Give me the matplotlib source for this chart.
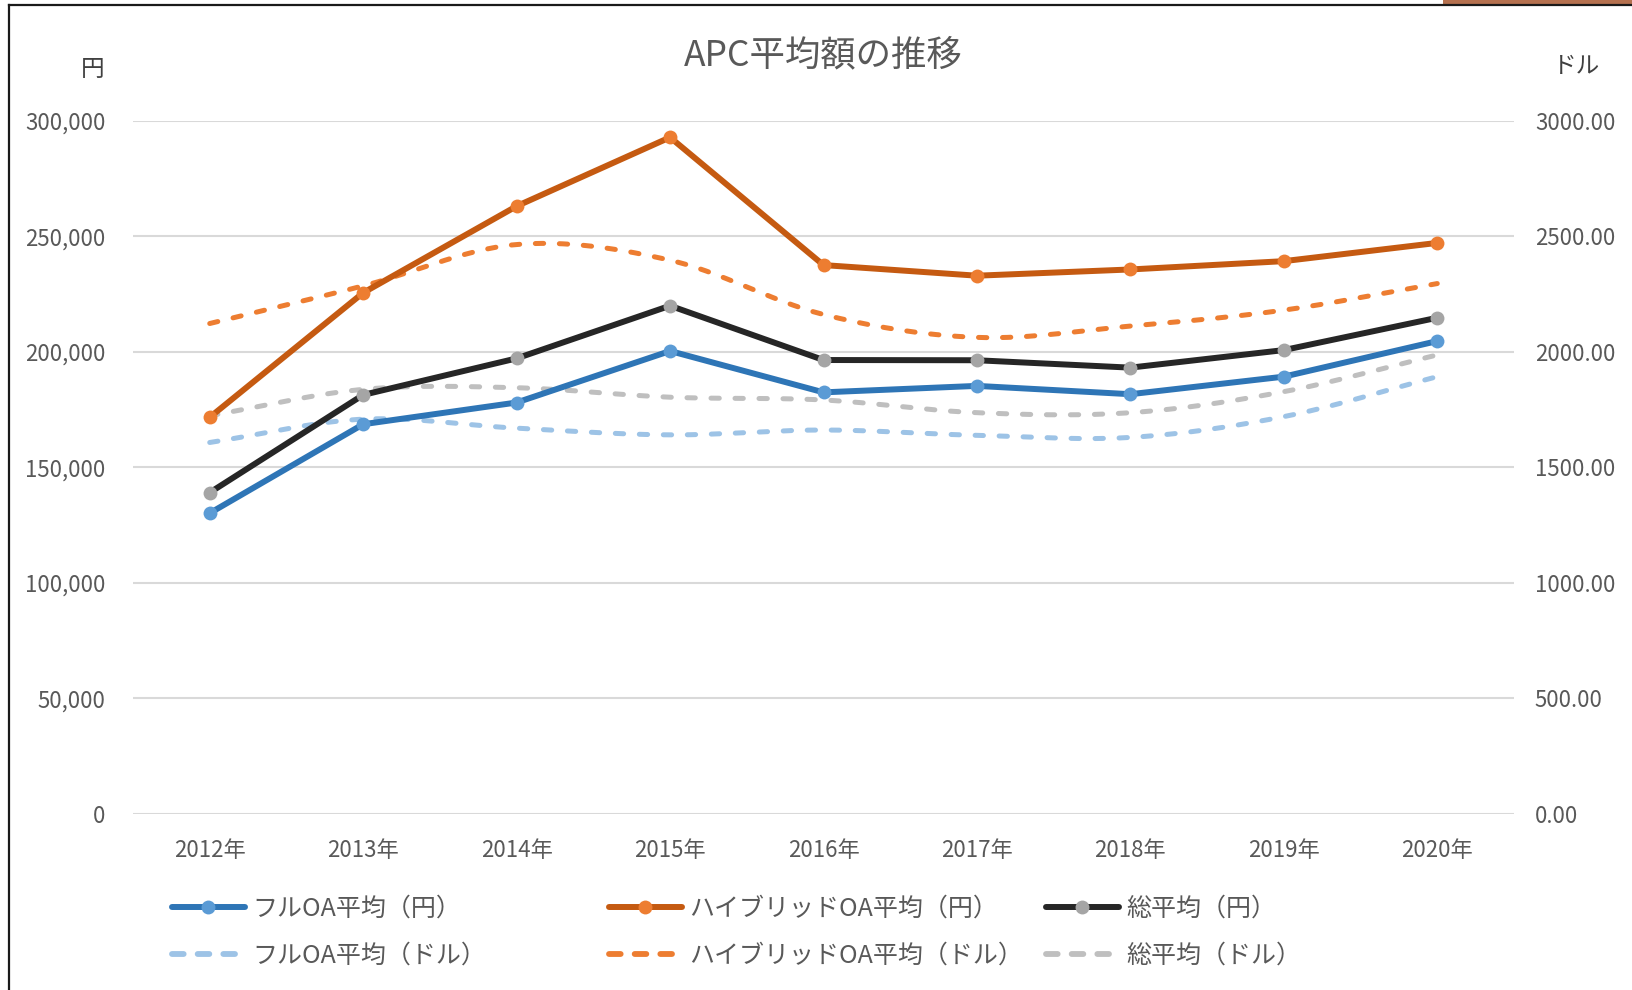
import numpy as np
import matplotlib
matplotlib.use("Agg")
import matplotlib.pyplot as plt
from matplotlib.lines import Line2D
from matplotlib.patches import Rectangle
from matplotlib.ticker import FuncFormatter, MultipleLocator

plt.rcParams['font.family'] = ['Noto Sans CJK JP', 'DejaVu Sans']

years = ["2012年", "2013年", "2014年", "2015年", "2016年", "2017年", "2018年", "2019年", "2020年"]
full_yen = [130100, 168600, 178000, 200300, 182400, 185200, 181600, 189200, 204600]
hybrid_yen = [171600, 225500, 263000, 292800, 237500, 232900, 235600, 239200, 247100]
total_yen = [139000, 181300, 197100, 219900, 196400, 196300, 193100, 200700, 214700]
full_usd = [1607, 1708, 1669, 1640, 1661, 1638, 1629, 1719, 1892]
hybrid_usd = [2122, 2285, 2464, 2396, 2161, 2062, 2111, 2180, 2295]
total_usd = [1723, 1837, 1844, 1803, 1791, 1736, 1736, 1827, 1986]

labels_yen = ["フルOA平均（円）", "ハイブリッドOA平均（円）", "総平均（円）"]
labels_usd = ["フルOA平均（ドル）", "ハイブリッドOA平均（ドル）", "総平均（ドル）"]

W, H = 1632, 990
fig = plt.figure(figsize=(W / 100, H / 100), dpi=100)
TXT = '#595959'

ax = fig.add_axes([133 / W, 1 - 813.7 / H, (1514 - 133) / W, (813.7 - 120.7) / H])
ax2 = ax.twinx()

x = np.arange(len(years))


def smooth(xs, ys, n=30):
    # uniform Catmull-Rom (Excel-like smoothed line) through the data points
    xs = np.asarray(xs, float)
    ys = np.asarray(ys, float)
    px = np.concatenate([[2 * xs[0] - xs[1]], xs, [2 * xs[-1] - xs[-2]]])
    py = np.concatenate([[2 * ys[0] - ys[1]], ys, [2 * ys[-1] - ys[-2]]])
    ox, oy = [], []
    t = np.linspace(0, 1, n, endpoint=False)
    for i in range(1, len(px) - 2):
        for P, out in ((px, ox), (py, oy)):
            p0, p1, p2, p3 = P[i - 1], P[i], P[i + 1], P[i + 2]
            out.extend(0.5 * ((2 * p1) + (-p0 + p2) * t + (2 * p0 - 5 * p1 + 4 * p2 - p3) * t ** 2
                              + (-p0 + 3 * p1 - 3 * p2 + p3) * t ** 3))
    ox.append(xs[-1]); oy.append(ys[-1])
    return np.array(ox), np.array(oy)


dash = (0, (1.66, 3.14))
dlw = 3.6
usd_series = [(full_usd, '#9DC3E6'), (hybrid_usd, '#ED7D31'), (total_usd, '#BFBFBF')]
usd_handles = []
for (vals, col), lab in zip(usd_series, labels_usd):
    sx, sy = smooth(x, vals)
    ax2.plot(sx, sy, color=col, lw=dlw, linestyle=dash, dash_capstyle='round',
             solid_capstyle='round', zorder=2)
    usd_handles.append(Line2D([], [], color=col, lw=4.2, linestyle=(0, (2.0, 2.4)),
                              dash_capstyle='round', label=lab))

yen_series = [(full_yen, '#2E75B6', '#5B9BD5'), (hybrid_yen, '#C55A11', '#ED7D31'),
              (total_yen, '#262626', '#A5A5A5')]
yen_handles = []
for (vals, lc, mc), lab in zip(yen_series, labels_yen):
    ln, = ax.plot(x, vals, color=lc, lw=4.3, marker='o', markersize=10,
                  markerfacecolor=mc, markeredgecolor=mc, markeredgewidth=0,
                  solid_capstyle='round', label=lab, zorder=3)
    yen_handles.append(ln)

ax.set_zorder(ax2.get_zorder() + 1)
ax.patch.set_visible(False)

ax.set_xlim(-0.5, len(years) - 0.5)
ax.set_ylim(0, 300000)
ax2.set_ylim(0, 3000)
ax.yaxis.set_major_locator(MultipleLocator(50000))
ax2.yaxis.set_major_locator(MultipleLocator(500))
ax.yaxis.set_major_formatter(FuncFormatter(lambda v, p: f"{int(v):,}"))
ax2.yaxis.set_major_formatter(FuncFormatter(lambda v, p: f"{v:.2f}"))
ax.set_xticks(x)
ax.set_xticklabels(years)

for a in (ax, ax2):
    for s in a.spines.values():
        s.set_visible(False)
    a.tick_params(length=0, labelsize=16, colors=TXT)
ax.tick_params(axis='y', pad=20)
ax2.tick_params(axis='y', pad=15)
ax.tick_params(axis='x', pad=18)

ax.yaxis.grid(True, color='#D9D9D9', lw=1.5)
ax.set_axisbelow(True)
ax.grid(axis='x', visible=False)

fig.text(823.5 / W, 1 - 55 / H, "APC平均額の推移", ha='center', va='center', fontsize=25.5, color=TXT)
fig.text(93 / W, 1 - 69 / H, "円", ha='center', va='center', fontsize=17, color='#404040')
fig.text(1577 / W, 1 - 67 / H, "ドル", ha='center', va='center', fontsize=17, color='#404040')

col_x = [172, 609, 1046]
for i in range(3):
    lg = fig.legend(handles=[yen_handles[i], usd_handles[i]], loc='center left',
                    bbox_to_anchor=(col_x[i] / W, 1 - 932 / H), frameon=False,
                    fontsize=18, handlelength=2.9, handletextpad=0.3,
                    borderpad=0, borderaxespad=0, labelspacing=0.85, numpoints=1)
    for t in lg.get_texts():
        t.set_color(TXT)

fig.add_artist(Line2D([9 / W, 9 / W], [0, 1 - 5 / H], transform=fig.transFigure, color='#1a1a1a', lw=1.6))
fig.add_artist(Line2D([9 / W, 1], [1 - 5 / H, 1 - 5 / H], transform=fig.transFigure, color='#1a1a1a', lw=1.6))
fig.add_artist(Rectangle((1443 / W, 1 - 4 / H), (W - 1443) / W, 4 / H, transform=fig.transFigure,
                         color='#B5714F', lw=0))

fig.savefig("out.png", dpi=100)
